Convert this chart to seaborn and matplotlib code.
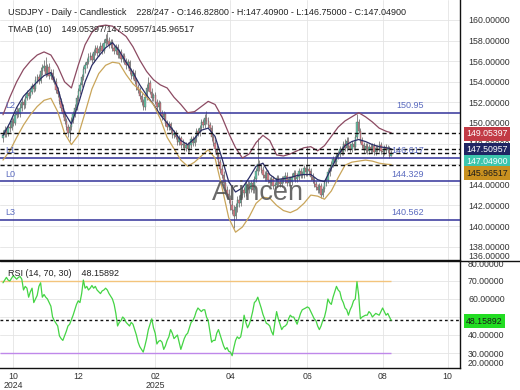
import numpy as np
import pandas as pd
import matplotlib
matplotlib.use("Agg")
import matplotlib.pyplot as plt
from matplotlib.lines import Line2D
from matplotlib.ticker import FormatStrFormatter
import seaborn as sns

# daily closes / highs / lows (open = previous close)
closes = [
    148.8, 149.3, 148.9, 149.6, 149.5, 150.2, 150.0, 150.8, 151.2, 150.9, 151.5, 152.0,
    151.7, 152.4, 152.9, 152.6, 153.0, 153.6, 153.3, 154.2, 154.5, 154.1, 155.0, 155.3,
    155.5, 154.8, 155.4, 154.6, 154.9, 154.2, 154.0, 153.2, 152.8, 152.1, 151.5, 150.9,
    150.2, 149.6, 149.0, 149.6, 150.3, 150.9, 151.5, 152.4, 153.1, 153.7, 154.5, 155.2,
    155.6, 155.9, 156.4, 156.5, 156.1, 156.9, 157.3, 156.8, 157.2, 157.5, 157.0, 157.8,
    158.2, 158.0, 157.6, 157.9, 157.3, 157.0, 157.4, 156.6, 156.9, 156.2, 156.5, 156.0,
    155.6, 155.9, 155.0, 154.6, 154.9, 154.1, 153.5, 153.2, 152.6, 152.0, 151.6, 152.5,
    153.4, 153.9, 153.0, 152.4, 152.7, 152.0, 151.6, 151.9, 151.0, 150.6, 150.9, 150.0,
    149.6, 149.9, 149.3, 148.8, 149.0, 148.6, 148.2, 148.5, 147.9, 148.0, 147.6, 147.9,
    147.5, 147.9, 148.4, 148.1, 148.5, 149.2, 149.0, 149.5, 150.1, 149.8, 150.5, 150.2,
    149.8, 149.5, 148.6, 148.1, 147.5, 146.9, 146.2, 145.5, 145.0, 144.2, 143.5, 143.1,
    142.6, 142.0, 141.6, 141.0, 141.8, 142.5, 142.2, 143.0, 143.5, 143.2, 144.1, 144.0,
    143.6, 144.2, 143.5, 144.6, 145.3, 146.0, 145.6, 145.4, 145.0, 144.7, 145.1, 144.5,
    144.2, 144.6, 143.9, 144.0, 144.7, 144.3, 144.1, 144.6, 144.5, 144.9, 144.2, 144.6,
    144.3, 144.8, 145.1, 144.6, 144.8, 145.3, 145.0, 145.0, 145.6, 145.2, 145.5, 145.3,
    144.8, 144.5, 144.1, 143.8, 143.5, 143.9, 143.0, 143.6, 144.2, 144.5, 145.2, 145.6,
    146.0, 146.5, 146.2, 146.8, 147.0, 147.5, 147.2, 148.0, 147.6, 148.3, 147.8, 147.5,
    148.0, 147.7, 148.6, 150.1, 149.2, 148.3, 147.9, 147.4, 147.8, 147.3, 147.7, 147.4,
    147.8, 147.2, 147.6, 147.5, 147.9, 147.3, 147.2, 147.7, 147.4, 147.6, 146.828, 147.049,
]
highs = [
    149.3, 149.7, 149.5, 149.9, 150.1, 150.6, 150.5, 151.1, 151.6, 151.5, 151.9, 152.4,
    152.3, 152.7, 153.2, 153.1, 153.3, 153.9, 153.8, 154.6, 154.8, 154.8, 155.4, 155.7,
    156.1, 156.4, 155.7, 155.8, 155.2, 155.2, 154.6, 154.4, 153.5, 153.1, 152.4, 151.8,
    151.2, 150.5, 149.9, 149.9, 150.6, 151.2, 151.8, 152.7, 153.4, 154.0, 154.8, 155.5,
    155.9, 156.3, 156.8, 156.9, 156.8, 157.2, 157.6, 157.6, 157.5, 157.9, 157.8, 158.2,
    158.6, 158.8, 158.3, 158.2, 158.2, 157.6, 157.7, 157.7, 157.2, 157.2, 156.8, 156.8,
    156.3, 156.2, 156.1, 155.3, 155.2, 155.1, 154.4, 153.8, 153.5, 152.9, 152.3, 152.8,
    153.8, 154.5, 154.2, 153.4, 152.9, 153.0, 152.3, 152.2, 152.1, 151.3, 151.2, 151.1,
    150.3, 150.2, 150.1, 149.6, 149.3, 149.3, 148.9, 148.8, 148.7, 148.4, 148.2, 148.2,
    148.2, 148.2, 148.7, 148.7, 148.8, 149.5, 149.5, 149.8, 150.4, 150.4, 150.9, 151.2,
    150.6, 150.1, 149.8, 148.9, 148.4, 147.9, 147.2, 146.5, 145.9, 145.3, 144.6, 143.9,
    143.6, 143.0, 142.5, 142.0, 142.2, 142.9, 143.0, 143.4, 143.9, 143.8, 144.5, 144.5,
    144.4, 144.5, 144.6, 144.9, 145.6, 148.5, 146.4, 146.0, 145.8, 145.3, 145.4, 145.4,
    144.8, 144.9, 144.9, 144.3, 145.0, 145.0, 144.6, 144.9, 144.9, 145.2, 145.2, 144.9,
    144.9, 145.1, 145.4, 145.4, 145.1, 145.6, 145.6, 145.3, 145.9, 145.9, 147.8, 145.8,
    145.6, 145.1, 144.8, 144.4, 144.1, 144.2, 144.2, 143.9, 144.5, 144.8, 145.5, 145.9,
    146.3, 146.8, 146.8, 147.1, 147.3, 147.8, 147.8, 148.3, 148.4, 148.6, 148.6, 148.1,
    148.3, 148.3, 148.9, 150.9, 150.4, 149.5, 148.6, 148.2, 148.1, 148.1, 148.0, 148.0,
    148.1, 148.1, 147.9, 147.9, 148.3, 148.2, 147.6, 147.9, 148.0, 147.9, 147.8, 147.409,
]
lows = [
    148.2, 148.6, 148.6, 148.7, 149.1, 149.3, 149.7, 149.8, 150.5, 150.6, 150.6, 151.2,
    151.4, 151.5, 152.2, 152.3, 152.4, 152.8, 153.0, 153.1, 153.9, 153.8, 153.9, 154.7,
    155.0, 154.5, 154.6, 154.3, 154.3, 154.0, 153.8, 152.9, 152.5, 151.8, 151.2, 150.6,
    149.9, 149.3, 148.6, 148.3, 149.3, 150.0, 150.6, 151.3, 152.1, 152.8, 153.5, 154.2,
    154.9, 155.3, 155.7, 156.1, 155.8, 155.9, 156.6, 156.5, 156.5, 156.9, 156.7, 156.8,
    157.5, 157.7, 157.3, 157.3, 157.0, 156.7, 156.7, 156.3, 156.3, 155.9, 155.9, 155.7,
    155.2, 155.3, 154.8, 154.3, 154.3, 153.8, 153.2, 152.9, 152.3, 151.7, 151.3, 151.3,
    152.2, 153.1, 152.8, 152.1, 152.1, 151.8, 151.3, 151.3, 150.8, 150.3, 150.3, 149.7,
    149.3, 149.3, 149.0, 148.5, 148.5, 148.4, 147.9, 147.9, 147.6, 147.6, 147.3, 147.3,
    147.1, 147.2, 147.6, 147.8, 147.8, 148.2, 148.7, 148.7, 149.2, 149.5, 149.5, 149.9,
    149.5, 149.2, 148.3, 147.8, 147.2, 146.5, 145.9, 145.1, 144.7, 143.9, 143.1, 142.7,
    142.2, 141.6, 141.2, 139.8, 140.7, 141.4, 141.8, 141.9, 142.7, 142.8, 142.9, 143.6,
    143.2, 143.3, 143.2, 143.2, 144.3, 145.0, 145.3, 145.1, 144.7, 144.4, 144.4, 144.2,
    143.9, 143.9, 143.6, 143.6, 143.8, 144.0, 143.8, 143.8, 144.2, 144.2, 143.9, 143.9,
    144.0, 144.0, 144.5, 144.3, 144.3, 144.5, 144.7, 144.7, 144.7, 144.9, 144.9, 145.0,
    144.5, 144.2, 143.8, 143.5, 143.2, 143.2, 142.7, 142.8, 143.3, 143.9, 144.2, 144.9,
    145.3, 145.7, 145.9, 145.9, 146.5, 146.7, 146.9, 146.9, 147.3, 147.3, 147.5, 147.2,
    147.2, 147.4, 147.4, 148.4, 149.0, 148.1, 147.6, 147.1, 147.1, 147.0, 147.0, 147.1,
    147.1, 146.9, 146.9, 147.2, 147.2, 147.0, 146.7, 146.9, 147.1, 147.1, 146.6, 146.75,
]
first_open = 148.5

# TMAB(10) bands, read every 4th bar plus the last one
band_upper = [
    150.8, 152.5, 154.0, 155.2, 156.0, 156.6, 156.9, 156.6, 155.5, 154.0, 153.4, 155.6,
    157.6, 158.8, 159.4, 159.5, 159.4, 158.9, 158.4, 157.4, 156.1, 155.0, 154.2, 153.7,
    153.4, 152.5, 151.8, 151.0, 151.1, 151.6, 152.1, 151.8, 150.6, 149.0, 147.6, 146.6,
    147.0, 148.1, 148.8, 148.3, 146.9, 146.8, 147.0, 147.3, 147.6, 147.7, 147.3, 147.8,
    148.7, 149.6, 150.2, 150.6, 151.0, 150.6, 150.1, 149.5, 149.2, 149.05397,
]
band_mid = [
    148.8, 150.0, 151.5, 152.6, 153.3, 154.0, 154.6, 154.9, 153.4, 151.0, 149.9, 151.8,
    154.0, 155.6, 156.5, 157.3, 157.8, 157.0, 155.9, 154.9, 153.7, 152.7, 151.8, 150.8,
    150.0, 149.2, 148.3, 147.9, 148.5, 149.3, 149.5, 148.7, 146.6, 144.3, 143.3, 143.7,
    144.7, 145.8, 146.1, 145.0, 144.5, 144.6, 144.7, 144.9, 145.0, 145.0, 144.5, 144.3,
    145.6, 146.9, 147.8, 148.2, 148.4, 148.2, 147.9, 147.7, 147.6, 147.50957,
]
band_lower = [
    146.4, 147.3, 148.6, 149.8, 150.8, 151.6, 152.2, 152.4, 151.1, 149.0, 147.9, 148.8,
    151.0, 153.3, 154.8, 155.6, 155.9, 155.8, 154.7, 153.8, 153.2, 152.5, 151.8, 150.4,
    148.6, 147.5, 146.4, 145.8, 146.2, 146.8, 147.4, 146.6, 143.8, 140.8, 139.4, 139.9,
    140.9, 142.2, 142.8, 142.7, 142.0, 141.5, 141.3, 141.6, 142.2, 143.0, 142.9, 142.6,
    143.4, 144.7, 145.9, 146.2, 146.3, 146.4, 146.3, 146.1, 146.0, 145.96517,
]

# RSI(14) per bar
rsi = [
    69, 70.5, 72, 70.5, 70, 71.5, 73, 72, 71, 72, 72.5, 71,
    65, 67, 66, 61, 64, 66, 58, 60, 62, 67, 69, 61,
    62.5, 61, 60, 58, 56, 50, 48, 46.5, 45, 39.5, 38, 37,
    39.5, 42, 45, 46, 48.5, 51, 54, 57, 59, 58, 63, 70.5,
    66, 67, 65, 66, 67.5, 66, 67, 65, 64, 63, 64.5, 65,
    66, 65, 63, 61.5, 60, 57, 52, 45, 47, 48, 50, 49,
    47, 46, 45, 47, 46, 43, 40, 36, 33.5, 32, 30.5, 34,
    38, 43, 46, 49, 44, 41, 35, 36.5, 37, 36, 32, 34,
    37, 39, 43, 41, 38, 39, 40, 36, 32, 35, 38, 40,
    41, 44, 47, 48, 50, 53, 55, 54, 53, 54, 54, 50,
    48, 42, 36, 37, 37, 41, 43, 40, 37, 34, 32, 33,
    31, 30.5, 28.5, 33, 37, 39, 38, 39, 44, 51, 47, 44,
    46, 49, 53, 58, 59, 61, 58, 55, 51.5, 49, 46.5, 46,
    45, 42, 40, 47, 53, 49, 46, 43, 44.5, 45, 46, 49,
    51, 50, 50, 48, 46, 49, 52, 54, 54.5, 55, 55.6, 55,
    53, 51, 49, 48, 45, 43, 45, 48, 50, 54, 60, 58,
    57, 61, 64, 67, 65, 64, 60, 58, 55, 54, 51, 54,
    56, 59, 60, 69.6, 62, 49, 50, 50.5, 51, 51, 53, 52,
    50, 51, 52, 51.5, 51, 53, 55, 53, 51, 52, 50, 48.15892,
]

level_vals = [150.95, 146.617, 144.329, 140.562]
level_tags = ["L2", "L1", "L0", "L3"]
level_text = ["150.95", "146.617", "144.329", "140.562"]
last_vals = [149.05397, 147.50957, 147.04900, 145.96517]
rsi_last = 48.15892

price_ticks = [138, 140, 142, 144, 148, 150, 152, 154, 156, 158, 160]
rsi_ticks = [30, 40, 60, 70]
month_pos = [6, 44, 89, 133, 178, 222, 260]
month_lbl = ["10\n2024", "12", "02\n2025", "04", "06", "08", "10"]

n = len(closes)
bars = np.arange(n)
df = pd.DataFrame({"bar": bars, "close": closes, "high": highs, "low": lows})
df["open"] = [first_open] + closes[:-1]
df["up"] = df["close"] >= df["open"]
band_df = pd.DataFrame({"bar": list(range(0, n, 4)) + [n - 1],
                        "upper": band_upper, "mid": band_mid, "lower": band_lower})
rsi_df = pd.DataFrame({"bar": bars, "rsi": rsi})

sns.set_style("white")
plt.rcParams["font.family"] = ["Liberation Sans", "DejaVu Sans"]

W, H = 520, 390
fig = plt.figure(figsize=(5.2, 3.9), dpi=100)


def px_box(l, t, r, b):
    return [l / W, 1 - b / H, (r - l) / W, (b - t) / H]


ax = fig.add_axes(px_box(0, 0, 460, 260))
ax2 = fig.add_axes(px_box(0, 261, 460, 368))

x0, x1 = -1.75, 267.25
for a in (ax, ax2):
    a.set_xlim(x0, x1)
    a.set_xticks(month_pos)
    a.grid(True, color="#e4e4e4", lw=0.6)
    a.set_axisbelow(True)
    a.yaxis.tick_right()
    a.yaxis.set_major_formatter(FormatStrFormatter("%.5f"))
    a.tick_params(length=0, labelsize=6.3, labelcolor="#333333", pad=5.8)
    for s in ("top", "left"):
        a.spines[s].set_visible(False)
    for s in ("right", "bottom"):
        a.spines[s].set_color("#111111")
        a.spines[s].set_linewidth(1)

ax.set_ylim(136.7, 161.94)
ax.set_yticks(price_ticks)
ax.tick_params(labelbottom=False)
ax2.set_ylim(21.67, 81.1)
ax2.set_yticks(rsi_ticks)
ax2.axhline(50, color="#e4e4e4", lw=0.6, zorder=0)
ax.axhline(146, color="#e4e4e4", lw=0.6, zorder=0)

# candles
body_lo = df[["open", "close"]].min(axis=1)
body_h = (df["close"] - df["open"]).abs().clip(lower=0.06)
colors = np.where(df["up"], "#63c3a6", "#e2818b")
ax.vlines(df["bar"], df["low"], df["high"], color="#5a5a5a", lw=0.5, zorder=2)
ax.bar(df["bar"], body_h, bottom=body_lo, width=0.8, color=colors,
       edgecolor="#555555", linewidth=0.25, zorder=3)

# TMAB bands
sns.lineplot(data=band_df, x="bar", y="upper", ax=ax, color="#8c4a62", lw=0.9, zorder=4)
sns.lineplot(data=band_df, x="bar", y="mid", ax=ax, color="#2a2d66", lw=0.9, zorder=4)
sns.lineplot(data=band_df, x="bar", y="lower", ax=ax, color="#c9a55a", lw=0.9, zorder=4)
ax.set_xlabel("")
ax.set_ylabel("")

# support / resistance levels
ytr = ax.get_yaxis_transform()
for v, tag, txt in zip(level_vals, level_tags, level_text):
    ax.axhline(v, color="#33339a", lw=1.1, zorder=3)
    ax.annotate(tag, (5 / 460, v), xycoords=ytr, xytext=(0, 2), textcoords="offset points",
                ha="left", va="bottom", fontsize=6.5, color="#5b6bbf", zorder=6)
    ax.annotate(txt, (424 / 460, v), xycoords=ytr, xytext=(0, 2), textcoords="offset points",
                ha="right", va="bottom", fontsize=6.5, color="#5b6bbf", zorder=6)

for v in last_vals:
    ax.axhline(v, color="#111111", lw=1.0, ls=(0, (3, 2)), zorder=4)

ax.text(0.561, 0.258, "Arincen", transform=ax.transAxes, fontsize=19.5, color="#505050",
        alpha=0.85, ha="center", va="center", zorder=7)

# RSI panel
ax2.hlines(70, x0, n - 1, color="#f3c47c", lw=1, zorder=2)
ax2.hlines(30, x0, n - 1, color="#bf88ea", lw=1, zorder=2)
ax2.axhline(rsi_last, color="#111111", lw=1.0, ls=(0, (2, 2)), zorder=3)
sns.lineplot(data=rsi_df, x="bar", y="rsi", ax=ax2, color="#44d444", lw=0.9, zorder=4)
ax2.set_xlabel("")
ax2.set_ylabel("")
ax2.set_xticklabels(month_lbl)
ax2.tick_params(axis="x", pad=3)
for lab in ax2.get_xticklabels():
    lab.set_linespacing(1.0)

# value boxes on the price scale
box_y = [134, 149.5, 161.5, 173]
box_fc = ["#c23a45", "#1f2563", "#3cc6ae", "#c8901f"]
box_tc = ["white", "white", "white", "#1a1a1a"]
for v, y, fc, tc in zip(last_vals, box_y, box_fc, box_tc):
    fig.text(466 / W, 1 - y / H, f"{v:.5f}", fontsize=6.3, color=tc, va="center", ha="left",
             bbox=dict(boxstyle="square,pad=0.25", fc=fc, ec="none"))
fig.text(466 / W, 1 - 321 / H, f"{rsi_last:.5f}", fontsize=6.3, color="#1a1a1a", va="center",
         ha="left", bbox=dict(boxstyle="square,pad=0.25", fc="#22dd22", ec="none"))

# squeezed edge labels
for txt, y in [("136.00000", 256.5), ("80.00000", 264.5), ("20.00000", 363)]:
    fig.text(468 / W, 1 - y / H, txt, fontsize=6.3, color="#333333", va="center", ha="left")

fig.add_artist(Line2D([0, 1], [1 - 260.5 / H] * 2, color="#111111", lw=1,
                      transform=fig.transFigure))

# headers
fig.text(8 / W, 1 - 12.5 / H,
         "USDJPY - Daily - Candlestick    228/247 - O:146.82800 - H:147.40900 - L:146.75000 - C:147.04900",
         fontsize=6.5, color="#222222", va="center")
fig.text(8 / W, 1 - 29 / H, "TMAB (10)    149.05397/147.50957/145.96517",
         fontsize=6.5, color="#222222", va="center")
fig.text(8 / W, 1 - 273 / H, "RSI (14, 70, 30)    48.15892",
         fontsize=6.5, color="#222222", va="center")

fig.savefig("out.png", dpi=100)
